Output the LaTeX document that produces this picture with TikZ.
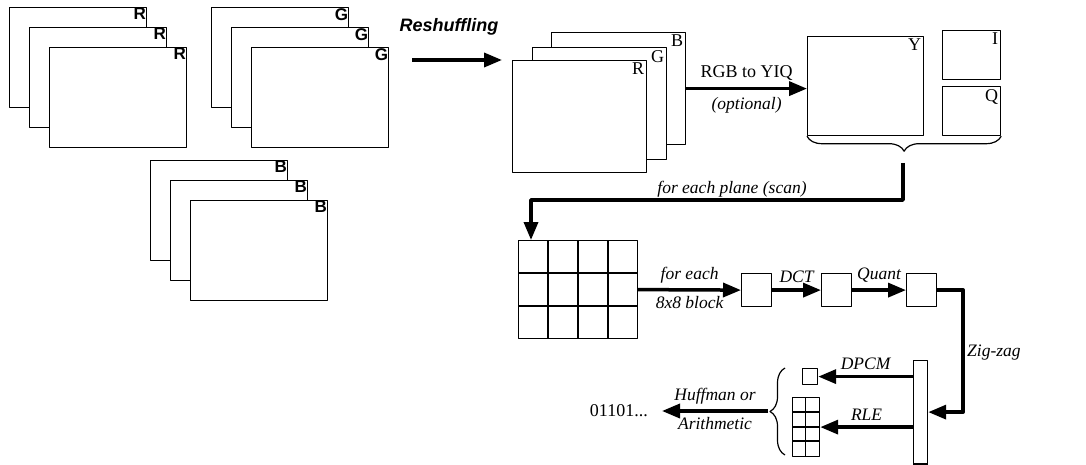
\documentclass[tikz,border=0pt]{standalone}
\usepackage{fontspec}
\setmainfont{Liberation Serif}
\newfontfamily\sansfont{Liberation Sans}
\usetikzlibrary{arrows.meta,decorations.pathreplacing}

\begin{document}
\begin{tikzpicture}[x=1pt, y=-1pt, line join=round, >={Triangle[length=18pt,width=14pt]},
  plane/.style={draw, line width=1.2pt, fill=white, anchor=north west, inner sep=0pt},
  tag/.style={font=\sansfont\bfseries\fontsize{17}{17}\selectfont, anchor=north east, inner sep=1pt},
  lbl/.style={font=\fontsize{18}{18}\selectfont, inner sep=1pt},
  act/.style={font=\itshape\fontsize{17.5}{17.5}\selectfont, inner sep=1pt},
  flow/.style={line width=3.5pt},
  cell/.style={draw, line width=1.2pt, anchor=north west, inner sep=0pt}]
\useasboundingbox (0,0) rectangle (1086,465);
%Three separate stacks of planes
\foreach \c/\x/\y in {R/9/7, G/211/7, B/150/160}
  \foreach \i in {0,1,2}{
    \node[plane, minimum width=137pt, minimum height=100pt] (src\c\i) at ({\x+20*\i},{\y+20*\i}) {};
    \node[tag] at (src\c\i.north east) {\c};
  }
\node[font=\sansfont\bfseries\itshape\fontsize{18}{18}\selectfont] (shuf) at (449,27) {Reshuffling};
\coordinate (shufA) at (412,60);
\coordinate (shufB) at (502,60);
\draw[flow,->] (shufA) -- (shufB);
%Interleaved RGB planes
\foreach \c/\x/\y in {B/551/32, G/532/47, R/512/60}{
  \node[plane, minimum width=134pt, minimum height=112pt] (rgb\c) at (\x,\y) {};
  \node[lbl, anchor=north east, inner sep=3pt] at (rgb\c.north east) {\c};
}
%YIQ planes
\node[plane, minimum width=116pt, minimum height=99pt] (Y) at (807,36) {};
\node[plane, minimum width=58pt, minimum height=49pt] (I) at (942,30) {};
\node[plane, minimum width=58pt, minimum height=49pt] (Q) at (942,86) {};
\foreach \p in {Y,I,Q}
  \node[lbl, anchor=north east, inner sep=3pt] at (\p.north east) {\p};
\draw[flow,->] (rgbB.east) -- (rgbB.east -| Y.west)
  node[lbl, midway, above=5pt] {RGB to YIQ}
  node[act, midway, below=6pt] {(optional)};
\draw[line width=1.2pt, decorate, decoration={brace, mirror, amplitude=15pt}] (Y.south west) -- (Q.south east);
%Block grid
\node[cell, minimum width=119pt, minimum height=98pt] (grid) at (518,240) {};
\foreach \x in {548,578,608}
  \draw[line width=1.2pt] (\x,240) -- (\x,338);
\foreach \y in {273,306}
  \draw[line width=1.2pt] (518,\y) -- (637,\y);
\coordinate (scan) at (903,163);
\coordinate (gridin) at (531,200);
\draw[flow,->] (scan) |- (gridin) -- (gridin |- grid.north);
\node[act] (plane) at (732,189) {for each plane (scan)};
%Per-block steps
\node[cell, minimum width=30pt, minimum height=33pt] (blk) at (741,273) {};
\node[cell, minimum width=30pt, minimum height=33pt] (dct) at (821,273) {};
\node[cell, minimum width=30pt, minimum height=33pt] (qnt) at (906,273) {};
\draw[flow,->] (grid.east) -- (blk.west)
  node[act, midway, above=4pt] {for each}
  node[act, midway, below=4pt] {8x8 block};
\draw[flow,->] (blk.east) -- (dct.west) node[act, midway, above=5pt] {DCT};
\draw[flow,->] (dct.east) -- (qnt.west) node[act, midway, above=5pt] {Quant};
\node[cell, minimum width=14pt, minimum height=103pt] (bar) at (913,360) {};
\draw[line width=3pt] (bar.south west) -- (bar.south east);
\coordinate (zz) at (963,0);
\draw[flow,->] (qnt.east) -| (zz |- bar.east) -- (bar.east);
\node[act, anchor=west] (zig) at (966,353) {Zig-zag};
%DC and AC coefficients
\node[cell, minimum width=15pt, minimum height=16pt] (dc) at (802,368) {};
\node[cell, minimum width=27pt, minimum height=59pt] (ac) at (792,397) {};
\draw[line width=1.2pt] (805.5,397) -- (805.5,456);
\foreach \y in {412,427,441}
  \draw[line width=1.2pt] (792,\y) -- (819,\y);
\draw[flow,->] (bar.west |- dc.east) -- (dc.east) node[act, midway, above=4pt] {DPCM};
\draw[flow,->] (bar.west |- ac.east) -- (ac.east) node[act, midway, above=4pt] {RLE};
\draw[line width=1.2pt, decorate, decoration={brace, amplitude=15pt}] (785,455) -- (785,368);
\node[lbl, anchor=east, inner sep=0pt] (bits) at (648,411) {01101...};
\coordinate (hufA) at (768,411);
\draw[flow,->] (hufA) -- ([xshift=14pt]bits.east)
  node[act, midway, above=4pt] {Huffman or}
  node[act, midway, below=4pt] {Arithmetic};
\end{tikzpicture}
\end{document}
